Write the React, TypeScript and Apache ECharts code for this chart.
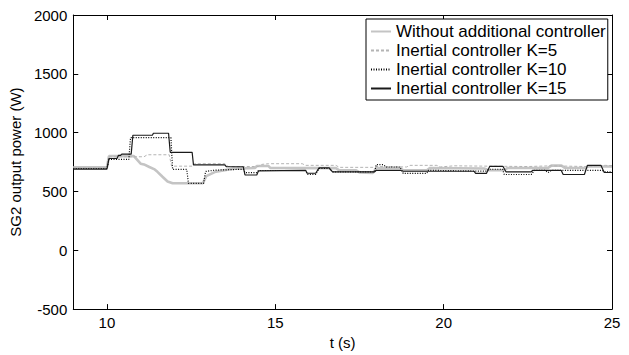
import React, { useEffect, useRef } from "react";
import * as echarts from "echarts";

const xTicks = [10, 15, 20, 25];
const yTicks = [-500, 0, 500, 1000, 1500, 2000];

const seriesNames = [
  "Without additional controller",
  "Inertial controller K=5",
  "Inertial controller K=10",
  "Inertial controller K=15",
];

const withoutCtrl: [number, number][] = [
  [9.0, 705], [10.0, 705], [10.06, 800], [10.8, 800], [11.0, 736], [11.1, 730], [11.26, 708],
  [11.4, 690], [11.5, 667], [11.65, 625], [11.8, 585], [11.95, 570], [12.85, 570], [12.95, 630],
  [13.2, 665], [13.75, 694], [14.4, 700], [14.45, 716], [14.8, 716], [14.85, 700], [16.8, 698],
  [16.9, 680], [17.4, 680], [17.5, 662], [17.9, 658], [18.0, 700], [18.7, 700], [18.8, 680],
  [19.5, 680], [19.6, 700], [21.2, 695], [21.35, 680], [21.8, 680], [21.9, 700], [23.1, 700],
  [23.2, 720], [23.5, 720], [23.6, 700], [24.2, 700], [24.3, 712], [25.0, 712],
];

const k5: [number, number][] = [
  [9.0, 700], [10.0, 700], [10.06, 795], [11.1, 795], [11.2, 812], [11.85, 812], [11.92, 715],
  [12.55, 715], [12.6, 736], [13.5, 736], [13.6, 712], [14.5, 712], [14.6, 730], [14.8, 736],
  [15.8, 736], [15.9, 722], [16.8, 722], [16.9, 705], [17.9, 705], [18.0, 712], [18.9, 708],
  [19.0, 722], [19.8, 722], [19.9, 708], [20.3, 718], [21.3, 715], [22.5, 712], [23.2, 718],
  [24.2, 712], [24.8, 722], [25.0, 720],
];

const k10: [number, number][] = [
  [9.0, 695], [10.0, 695], [10.06, 772], [10.65, 772], [10.7, 958], [11.9, 958], [11.95, 688],
  [12.37, 688], [12.42, 569], [12.87, 569], [12.93, 670], [13.2, 681], [14.05, 689], [14.1, 660],
  [14.45, 660], [14.5, 678], [15.9, 678], [15.95, 645], [16.2, 645], [16.3, 695], [16.6, 695],
  [16.7, 667], [17.95, 667], [18.0, 728], [18.2, 728], [18.3, 708], [18.7, 708], [18.8, 653],
  [19.5, 653], [19.55, 680], [21.25, 672], [21.35, 689], [21.75, 689], [21.8, 644], [22.6, 644],
  [22.7, 680], [23.0, 680], [23.1, 660], [23.2, 680], [24.7, 680], [24.8, 667], [25.0, 667],
];

const k15: [number, number][] = [
  [9.0, 690], [10.0, 690], [10.06, 780], [10.3, 780], [10.34, 806], [10.4, 806], [10.44, 817],
  [10.72, 817], [10.77, 978], [11.35, 978], [11.38, 995], [11.83, 995], [11.88, 833], [12.53, 833],
  [12.57, 726], [13.5, 726], [13.55, 710], [14.05, 710], [14.1, 640], [14.45, 640], [14.5, 675],
  [15.9, 680], [15.95, 655], [16.2, 655], [16.3, 700], [16.6, 700], [16.7, 667], [17.95, 667],
  [18.0, 680], [18.7, 680], [18.8, 672], [20.9, 672], [20.95, 653], [21.27, 653], [21.37, 714],
  [21.76, 714], [21.85, 667], [22.6, 667], [22.65, 680], [23.49, 680], [23.55, 644], [24.18, 644],
  [24.27, 722], [24.67, 722], [24.77, 661], [25.0, 661],
];

const FONT = "'Liberation Sans', Arial, Helvetica, sans-serif";

export default function App() {
  const ref = useRef<HTMLDivElement>(null);
  useEffect(() => {
    if (!ref.current) return;
    const chart = echarts.init(ref.current, undefined, { renderer: "svg" });
    const axisLine = { show: true, onZero: false, lineStyle: { color: "#000", width: 1 } };
    const tickStyle = { color: "#000", width: 1 };
    chart.setOption({
      animation: false,
      backgroundColor: "#fff",
      textStyle: { fontFamily: FONT },
      grid: { left: 72, right: 17, top: 15, bottom: 40 },
      legend: {
        orient: "vertical",
        left: 366,
        top: 19,
        itemWidth: 20,
        itemHeight: 10,
        itemGap: 0,
        padding: [3, 2, 2, 4],
        borderColor: "#000",
        borderWidth: 1,
        borderRadius: 0,
        backgroundColor: "#fff",
        itemStyle: { opacity: 0, borderWidth: 0 },
        textStyle: { fontSize: 17, color: "#000", fontFamily: FONT, lineHeight: 19 },
        data: seriesNames,
      },
      xAxis: [
        {
          type: "value",
          min: 9,
          max: 25,
          position: "bottom",
          axisLine,
          axisTick: { show: true, inside: true, length: 5, customValues: xTicks, lineStyle: tickStyle },
          axisLabel: { customValues: xTicks, color: "#000", fontSize: 15, fontFamily: FONT, margin: 6 },
          splitLine: { show: false },
          name: "t (s)",
          nameLocation: "middle",
          nameGap: 21,
          nameTextStyle: { color: "#000", fontSize: 15, fontFamily: FONT },
        },
        {
          type: "value",
          min: 9,
          max: 25,
          position: "top",
          axisLine,
          axisTick: { show: true, inside: true, length: 5, customValues: xTicks, lineStyle: tickStyle },
          axisLabel: { show: false },
          splitLine: { show: false },
        },
      ],
      yAxis: [
        {
          type: "value",
          min: -500,
          max: 2000,
          interval: 500,
          position: "left",
          axisLine,
          axisTick: { show: true, inside: true, length: 5, customValues: yTicks, lineStyle: tickStyle },
          axisLabel: {
            customValues: yTicks,
            color: "#000",
            fontSize: 15,
            fontFamily: FONT,
            margin: 6,
            formatter: (v: number) => String(v),
          },
          splitLine: { show: false },
          name: "SG2 output power (W)",
          nameLocation: "middle",
          nameGap: 45,
          nameTextStyle: { color: "#000", fontSize: 15, fontFamily: FONT },
        },
        {
          type: "value",
          min: -500,
          max: 2000,
          interval: 500,
          position: "right",
          axisLine,
          axisTick: { show: true, inside: true, length: 5, customValues: yTicks, lineStyle: tickStyle },
          axisLabel: { show: false },
          splitLine: { show: false },
        },
      ],
      series: [
        {
          name: seriesNames[0],
          type: "line",
          data: withoutCtrl,
          showSymbol: false,
          symbol: "none",
          lineStyle: { color: "#c4c4c4", width: 2.6, type: "solid" },
          itemStyle: { color: "#c4c4c4" },
        },
        {
          name: seriesNames[1],
          type: "line",
          data: k5,
          showSymbol: false,
          symbol: "none",
          lineStyle: { color: "#b4b4b4", width: 1, type: [3, 2] },
          itemStyle: { color: "#b4b4b4" },
        },
        {
          name: seriesNames[2],
          type: "line",
          data: k10,
          showSymbol: false,
          symbol: "none",
          lineStyle: { color: "#000", width: 1.2, type: [1, 1.5] },
          itemStyle: { color: "#000" },
        },
        {
          name: seriesNames[3],
          type: "line",
          data: k15,
          showSymbol: false,
          symbol: "none",
          lineStyle: { color: "#1a1a1a", width: 1.2, type: "solid" },
          itemStyle: { color: "#1a1a1a" },
        },
      ],
    });
    return () => chart.dispose();
  }, []);
  return <div ref={ref} style={{ width: 629, height: 355, position: "absolute", left: 0, top: 0 }} />;
}
